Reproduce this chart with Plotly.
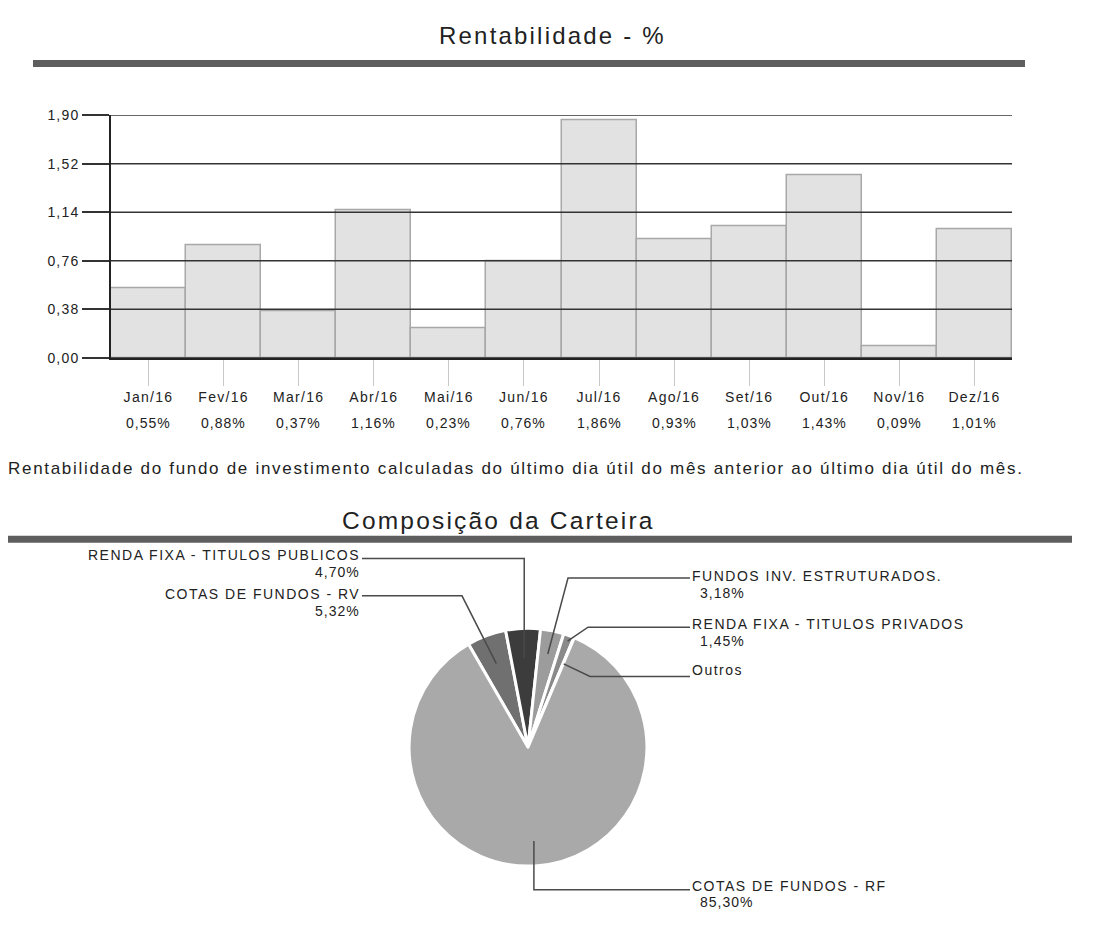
import math
import plotly.graph_objects as go

# ---------------- data ----------------
months = ["Jan/16", "Fev/16", "Mar/16", "Abr/16", "Mai/16", "Jun/16",
          "Jul/16", "Ago/16", "Set/16", "Out/16", "Nov/16", "Dez/16"]
returns = [0.55, 0.88, 0.37, 1.16, 0.23, 0.76, 1.86, 0.93, 1.03, 1.43, 0.09, 1.01]
y_ticks = [0.00, 0.38, 0.76, 1.14, 1.52, 1.90]

pie_labels = ["COTAS DE FUNDOS - RV", "RENDA FIXA - TITULOS PUBLICOS",
              "FUNDOS INV. ESTRUTURADOS.", "RENDA FIXA - TITULOS PRIVADOS",
              "Outros", "COTAS DE FUNDOS - RF"]
pie_values = [5.32, 4.70, 3.18, 1.45, 0.05, 85.30]
pie_show_pct = [True, True, True, True, False, True]

title_top = "Rentabilidade - %"
title_pie = "Composição da Carteira"
caption = ("Rentabilidade do fundo de investimento calculadas do último dia útil "
           "do mês anterior ao último dia útil do mês.")

# ---------------- layout helpers ----------------
W, H = 1108, 938
FONT = "Liberation Sans, Arial, sans-serif"
TXT = "#222222"


def px(x):
    return x / W


def py(y):
    return 1 - y / H


def br(v):
    return f"{v:.2f}".replace(".", ",")


def sp(text, ls):
    # wide tracking like the scanned original
    return f'<span style="letter-spacing:{ls}px">{text}</span>'


fig = go.Figure()

# ---------------- bar chart ----------------
fig.add_trace(go.Bar(
    x=months, y=returns,
    marker=dict(color="#e2e2e2", line=dict(color="#a8a8a8", width=1.5)),
    xaxis="x", yaxis="y", hoverinfo="x+y",
))

# ---------------- pie ----------------
CX, CY, R = 528, 752, 121
ROT = -30
pie_colors = ["#707070", "#3c3c3c", "#9c9c9c", "#8a8a8a", "#d8d8d8", "#a9a9a9"]
fig.add_trace(go.Pie(
    labels=pie_labels, values=pie_values, sort=False, direction="clockwise",
    rotation=ROT, textinfo="none",
    marker=dict(colors=pie_colors, line=dict(color="white", width=3)),
    domain=dict(x=[px(CX - R), px(CX + R)], y=[py(CY + R), py(CY - R)]),
    showlegend=False,
))

shapes = []
annotations = []


def label(text, x, y, size, xanchor="center", ls=1.4, color=TXT):
    annotations.append(dict(text=sp(text, ls), x=px(x), y=py(y), xref="paper", yref="paper",
                            xanchor=xanchor, yanchor="middle", showarrow=False,
                            font=dict(size=size, color=color, family=FONT)))


# gridlines drawn above the bars
for v in y_ticks:
    shapes.append(dict(type="line", xref="x domain", yref="y", x0=0, x1=1,
                       y0=v, y1=v, line=dict(color="#333333", width=1.5),
                       layer="above"))

# thick separator bars
shapes.append(dict(type="rect", xref="paper", yref="paper",
                   x0=px(33), x1=px(1025), y0=py(60), y1=py(53),
                   fillcolor="#5e5e5e", line=dict(width=0), layer="above"))
shapes.append(dict(type="rect", xref="paper", yref="paper",
                   x0=px(8), x1=px(1072), y0=py(544), y1=py(537),
                   fillcolor="#5e5e5e", line=dict(width=0), layer="above"))

# titles and caption
label(title_top, 552, 28, 24, ls=2.2)
label(title_pie, 498, 521, 24.5, ls=2.2)
label(caption, 6, 468, 17, xanchor="left", ls=1.7)

# percentages under the month labels
for m, v in zip(months, returns):
    annotations.append(dict(text=sp(br(v) + "%", 1.0), x=m, xref="x", y=py(422),
                            yref="paper", yanchor="middle", showarrow=False,
                            font=dict(size=14, color=TXT, family=FONT)))

# pie leader lines + labels
leader_style = [
    dict(rf=0.75, elbow=(462, 598), side="left", ty=596),
    dict(rf=0.75, elbow=(None, 560), side="left", ty=557),
    dict(rf=0.80, elbow=(568, 580), side="right", ty=578),
    dict(rf=0.95, elbow=(588, 630), side="right", ty=627),
    dict(rf=0.76, elbow=(590, 680), side="right", ty=673),
    dict(rf=0.79, elbow=(None, 897), side="right", ty=893),
]
LEFT_END, RIGHT_START = 362, 690
PSIZE = 14
PLS = 1.5
total = sum(pie_values)
cum = 0.0
for lab, val, show, st in zip(pie_labels, pie_values, pie_show_pct, leader_style):
    mid = math.radians(ROT + 360.0 * (cum + val / 2) / total)
    cum += val
    ax = CX + st["rf"] * R * math.sin(mid)
    ay = CY - st["rf"] * R * math.cos(mid)
    ex = st["elbow"][0] if st["elbow"][0] is not None else ax
    ey = st["elbow"][1]
    end_x = LEFT_END if st["side"] == "left" else RIGHT_START
    path = f"M {px(ax)} {py(ay)} L {px(ex)} {py(ey)} L {px(end_x)} {py(ey)}"
    shapes.append(dict(type="path", xref="paper", yref="paper", path=path,
                       line=dict(color="#4a4a4a", width=1.5), layer="above"))
    if st["side"] == "left":
        label(lab, end_x, st["ty"], PSIZE, xanchor="right", ls=PLS)
        if show:
            label(br(val) + "%", end_x, st["ty"] + 17, PSIZE, xanchor="right", ls=1.0)
    else:
        label(lab, end_x, st["ty"], PSIZE, xanchor="left", ls=PLS)
        if show:
            label(br(val) + "%", end_x + 8, st["ty"] + 17, PSIZE, xanchor="left", ls=1.0)

fig.update_layout(
    width=W, height=H,
    margin=dict(l=0, r=0, t=0, b=0),
    paper_bgcolor="white", plot_bgcolor="white",
    showlegend=False, bargap=0,
    font=dict(family=FONT, color=TXT),
    xaxis=dict(domain=[px(111), px(1012)], anchor="y",
               tickmode="array", tickvals=months,
               ticktext=[sp(m, 1.3) for m in months],
               showgrid=False, zeroline=False,
               showline=True, linecolor="#222222", linewidth=1.5,
               ticks="outside", ticklen=26, tickcolor="#c8c8c8", tickwidth=1,
               tickfont=dict(size=14, color=TXT, family=FONT)),
    yaxis=dict(domain=[py(356), py(109)], anchor="x", range=[0, 1.9],
               tickvals=y_ticks, ticktext=[sp(br(v), 1.2) for v in y_ticks],
               showgrid=False, zeroline=False,
               showline=True, linecolor="#222222", linewidth=1.5, layer="below traces",
               ticks="outside", ticklen=27, tickcolor="#333333", tickwidth=1.5,
               tickfont=dict(size=14, color=TXT, family=FONT)),
    shapes=shapes,
    annotations=annotations,
)

fig.write_html("out.html", config={"displayModeBar": False},
               post_script="document.body.style.margin='0';document.body.style.padding='0';")
